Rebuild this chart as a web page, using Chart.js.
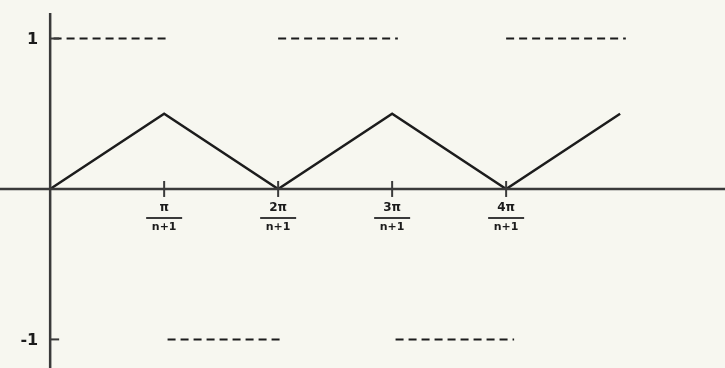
<!DOCTYPE html>
<html>
<head>
<meta charset="utf-8">
<script src="https://cdn.jsdelivr.net/npm/chart.js@4/dist/chart.umd.min.js"></script>
<style>
  html, body { margin: 0; padding: 0; background: #f7f7f0; }
  canvas { display: block; }
</style>
</head>
<body>
<canvas id="wave" width="725" height="368"></canvas>
<script>
// triangle wave, in units of pi/(n+1)
const waveX = [0, 1, 2, 3, 4, 5];
const waveY = [0, 0.5, 0, 0.5, 0, 0.5];

// dashed bounds: [from, to] along x
const upperDashes = [[0.03, 1.03], [2.0, 3.05], [4.0, 5.05]];
const lowerDashes = [[1.03, 2.05], [3.03, 4.07]];
const upperLevel = 1;
const lowerLevel = -1;

// axis ticks
const xTicks = [1, 2, 3, 4];
const xTickNumerators = ['π', '2π', '3π', '4π'];
const xTickDenominator = 'n+1';
const yTicks = [1, -1];
const yTickLabels = ['1', '-1'];

const X_MIN = -0.44, X_MAX = 5.92;
const Y_MIN = -1.19, Y_MAX = 1.256;

const INK = '#1c1c1c';
const AXIS = '#3a3a3a';

const datasets = [];

// axes as plain line segments
datasets.push({
  data: [{ x: X_MIN, y: 0 }, { x: X_MAX, y: 0 }],
  borderColor: AXIS, borderWidth: 2.5
});
datasets.push({
  data: [{ x: 0, y: Y_MIN }, { x: 0, y: 1.17 }],
  borderColor: AXIS, borderWidth: 2.5
});

// dashed bounds
upperDashes.forEach(([a, b]) => {
  datasets.push({
    data: [{ x: a, y: upperLevel }, { x: b, y: upperLevel }],
    borderColor: INK, borderWidth: 2, borderDash: [8, 5]
  });
});
lowerDashes.forEach(([a, b]) => {
  datasets.push({
    data: [{ x: a, y: lowerLevel }, { x: b, y: lowerLevel }],
    borderColor: INK, borderWidth: 2, borderDash: [8, 5]
  });
});

// the wave itself
datasets.push({
  data: waveX.map((x, i) => ({ x, y: waveY[i] })),
  borderColor: INK, borderWidth: 2.5
});

datasets.forEach(d => {
  d.showLine = true;
  d.pointRadius = 0;
  d.fill = false;
  d.tension = 0;
});

const paperBg = {
  id: 'paperBg',
  beforeDraw(chart) {
    const c = chart.ctx;
    c.save();
    c.fillStyle = '#f7f7f0';
    c.fillRect(0, 0, chart.width, chart.height);
    c.restore();
  }
};

// tick marks and fraction labels
const tickLabels = {
  id: 'tickLabels',
  afterDatasetsDraw(chart) {
    const c = chart.ctx;
    const xs = chart.scales.x, ys = chart.scales.y;
    const y0 = ys.getPixelForValue(0);
    const x0 = xs.getPixelForValue(0);
    c.save();
    c.strokeStyle = AXIS;
    c.fillStyle = INK;

    xTicks.forEach((t, i) => {
      const px = xs.getPixelForValue(t);
      c.lineWidth = 2;
      c.beginPath();
      c.moveTo(px, y0 - 8);
      c.lineTo(px, y0 + 8);
      c.stroke();

      c.font = 'bold 12px "DejaVu Sans"';
      c.textAlign = 'center';
      c.textBaseline = 'middle';
      c.fillText(xTickNumerators[i], px, y0 + 19);
      c.beginPath();
      c.lineWidth = 2;
      c.moveTo(px - 18, y0 + 29);
      c.lineTo(px + 18, y0 + 29);
      c.stroke();
      c.font = 'bold 11px "DejaVu Sans"';
      c.fillText(xTickDenominator, px, y0 + 38);
    });

    yTicks.forEach((t, i) => {
      const py = ys.getPixelForValue(t);
      c.lineWidth = 2;
      c.beginPath();
      c.moveTo(x0, py);
      c.lineTo(x0 + 9, py);
      c.stroke();
      c.font = 'bold 16px "DejaVu Sans"';
      c.textAlign = 'right';
      c.textBaseline = 'middle';
      c.fillText(yTickLabels[i], x0 - 12, py + 1);
    });
    c.restore();
  }
};

new Chart(document.getElementById('wave'), {
  type: 'scatter',
  data: { datasets },
  options: {
    responsive: false,
    animation: false,
    layout: { padding: 0 },
    plugins: { legend: { display: false }, tooltip: { enabled: false } },
    scales: {
      x: { type: 'linear', min: X_MIN, max: X_MAX, display: false },
      y: { type: 'linear', min: Y_MIN, max: Y_MAX, display: false }
    }
  },
  plugins: [paperBg, tickLabels]
});
</script>
</body>
</html>
